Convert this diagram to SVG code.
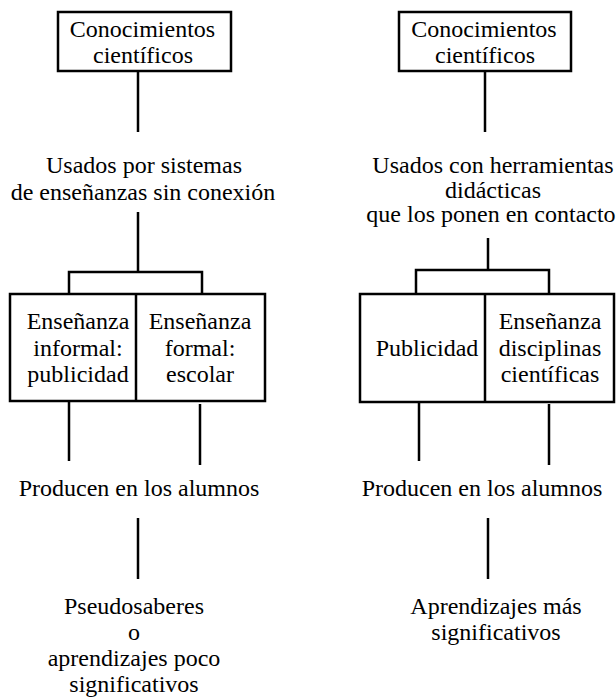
<svg xmlns="http://www.w3.org/2000/svg" width="616" height="698" viewBox="0 0 616 698">
<style>
text{font-family:'Liberation Serif','Times New Roman',serif;font-size:24px;fill:#000;text-anchor:middle}
.box{fill:#fff;stroke:#000;stroke-width:2.5}
.ln{stroke:#000;stroke-width:2.5;fill:none}
</style>
<rect width="616" height="698" fill="#fff"/>
<g id="connectors">
<path class="ln" d="M138 71V132"/>
<path class="ln" d="M138 212V272M69 294V272H202V294"/>
<path class="ln" d="M69 401V461M200 404V465"/>
<path class="ln" d="M138 518V579"/>
<path class="ln" d="M485 71V132"/>
<path class="ln" d="M488 238V270M416 294V270H549V294"/>
<path class="ln" d="M419 402V461M549 404V465"/>
<path class="ln" d="M488 518V579"/>
</g>
<g id="left-top">
<rect class="box" x="58" y="12" width="173" height="59"/>
<text x="142.5" y="37">Conocimientos</text>
<text x="143" y="63">científicos</text>
</g>
<g id="left-usados">
<text x="144" y="173">Usados por sistemas</text>
<text x="143" y="200">de enseñanzas sin conexión</text>
</g>
<g id="left-boxes">
<rect class="box" x="10" y="294" width="255" height="107"/>
<path class="ln" d="M136 294V401"/>
<text x="78" y="329">Enseñanza</text>
<text x="78" y="356">informal:</text>
<text x="78" y="382">publicidad</text>
<text x="200" y="329">Enseñanza</text>
<text x="200" y="356">formal:</text>
<text x="200" y="382">escolar</text>
</g>
<g id="left-producen">
<text x="139" y="496">Producen en los alumnos</text>
</g>
<g id="left-result">
<text x="134" y="614">Pseudosaberes</text>
<text x="134" y="640">o</text>
<text x="134" y="666">aprendizajes poco</text>
<text x="134" y="692">significativos</text>
</g>
<g id="right-top">
<rect class="box" x="399" y="12" width="172" height="59"/>
<text x="484" y="37">Conocimientos</text>
<text x="485" y="63">científicos</text>
</g>
<g id="right-usados">
<text x="493" y="173">Usados con herramientas</text>
<text x="493" y="198">didácticas</text>
<text x="491" y="222">que los ponen en contacto</text>
</g>
<g id="right-boxes">
<rect class="box" x="360" y="294" width="254" height="108"/>
<path class="ln" d="M485 294V402"/>
<text x="427" y="356">Publicidad</text>
<text x="550" y="329">Enseñanza</text>
<text x="550" y="356">disciplinas</text>
<text x="550" y="382">científicas</text>
</g>
<g id="right-producen">
<text x="482" y="496">Producen en los alumnos</text>
</g>
<g id="right-result">
<text x="496" y="614">Aprendizajes más</text>
<text x="496" y="640">significativos</text>
</g>
</svg>
